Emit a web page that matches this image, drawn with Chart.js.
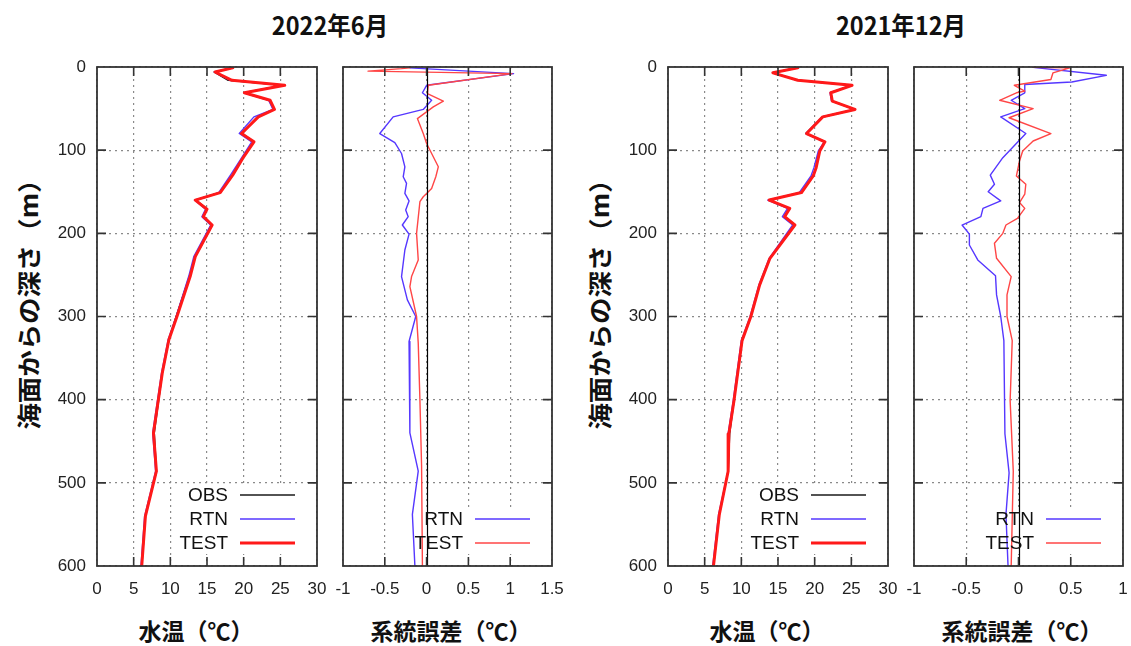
<!DOCTYPE html>
<html>
<head>
<meta charset="utf-8">
<script src="https://cdn.jsdelivr.net/npm/chart.js@4.4.0/dist/chart.umd.min.js"></script>
<style>
body { margin: 0; background: #fff; width: 1131px; height: 646px; position: relative; overflow: hidden;
       font-family: 'Noto Sans CJK JP', sans-serif; }
.panel { position: absolute; top: 55px; }
.lbl { position: absolute; white-space: nowrap; color: #111; font-weight: bold; font-size: 23px;
       transform: translate(-50%, -50%); }
.ttl { font-size: 25px; transform: translate(-50%, -50%) scaleX(0.94); }
.ylab { font-size: 24px; transform: translate(-50%, -50%) rotate(-90deg) scaleX(1.1); }
</style>
</head>
<body>

<div class="lbl ttl" style="left:330px;top:24px">2022年6月</div>
<div class="lbl ttl" style="left:901px;top:24px">2021年12月</div>
<div class="lbl ylab" style="left:27px;top:298px">海面からの深さ（m）</div>
<div class="lbl ylab" style="left:598px;top:298px">海面からの深さ（m）</div>
<div class="lbl" style="left:196px;top:630px">水温（℃）</div>
<div class="lbl" style="left:451px;top:630px">系統誤差（℃）</div>
<div class="lbl" style="left:767px;top:630px">水温（℃）</div>
<div class="lbl" style="left:1022px;top:630px">系統誤差（℃）</div>

<canvas id="p1" class="panel" style="left:40px" width="290" height="545"></canvas>
<canvas id="p2" class="panel" style="left:330px" width="235" height="545"></canvas>
<canvas id="p3" class="panel" style="left:611px" width="290" height="545"></canvas>
<canvas id="p4" class="panel" style="left:901px" width="230" height="545"></canvas>

<script>
// tick labels
const depthTicks = [0, 100, 200, 300, 400, 500, 600];
const tempTicks = [0, 5, 10, 15, 20, 25, 30];
const biasTicksJun = [-1, -0.5, 0, 0.5, 1, 1.5];
const biasTicksDec = [-1, -0.5, 0, 0.5, 1];

// 2022年6月 水温 (m, ℃)
const junDepth = [1, 6, 16, 22, 31, 40, 51, 60, 80, 90, 108, 130, 151, 160, 171, 180, 190, 228, 252, 300, 328, 368, 440, 486, 540, 600];
const junObs   = [18.6, 16.0, 17.9, 25.5, 20.1, 23.5, 24.1, 21.9, 19.8, 21.4, 20.0, 18.5, 16.8, 13.5, 15.0, 14.5, 15.7, 13.4, 12.6, 10.8, 9.8, 8.9, 7.8, 8.1, 6.6, 6.1];
const junRtn   = [18.3, 16.0, 18.2, 25.4, 20.0, 23.4, 24.0, 21.4, 19.4, 21.1, 19.8, 18.2, 16.6, 13.3, 14.8, 14.3, 15.5, 13.2, 12.5, 10.8, 9.7, 8.8, 7.6, 8.0, 6.5, 6.0];
const junTest  = [18.5, 16.1, 18.4, 25.6, 20.1, 23.6, 24.2, 22.0, 19.7, 21.4, 20.0, 18.5, 16.8, 13.4, 15.0, 14.5, 15.7, 13.4, 12.7, 10.9, 9.8, 8.9, 7.7, 8.1, 6.6, 6.1];

// 2022年6月 系統誤差
const junRtnBiasDepth = [1, 8, 22, 31, 40, 51, 60, 80, 91, 104, 120, 132, 140, 152, 161, 172, 180, 190, 201, 220, 252, 280, 300, 330, 440, 486, 538, 600];
const junRtnBias      = [-0.2, 1.04, 0.0, -0.05, 0.06, -0.04, -0.4, -0.56, -0.38, -0.3, -0.26, -0.28, -0.24, -0.26, -0.21, -0.25, -0.22, -0.29, -0.21, -0.26, -0.3, -0.23, -0.13, -0.21, -0.2, -0.1, -0.17, -0.14];
const junTestBiasDepth = [1, 2, 5, 8, 22, 32, 41, 48, 62, 80, 92, 120, 132, 146, 156, 162, 200, 232, 252, 264, 300, 332, 400, 480, 600];
const junTestBias      = [-0.2, -0.3, -0.7, 1.02, 0.02, 0.01, 0.2, 0.08, -0.11, -0.04, 0.0, 0.14, 0.11, 0.06, -0.04, -0.08, -0.12, -0.1, -0.18, -0.2, -0.12, -0.1, -0.08, -0.06, -0.05];

// 2021年12月 水温
const decDepth = [1, 7, 16, 22, 31, 41, 51, 60, 80, 90, 101, 121, 131, 151, 160, 170, 180, 190, 230, 262, 300, 329, 401, 441, 486, 538, 600];
const decObs   = [17.6, 14.3, 17.7, 25.1, 22.2, 22.4, 25.5, 21.1, 18.8, 21.4, 20.6, 20.2, 19.8, 18.2, 13.8, 16.5, 15.9, 17.3, 13.9, 12.5, 11.3, 10.1, 9.0, 8.4, 8.2, 7.0, 6.2];
const decRtn   = [17.8, 14.4, 17.6, 25.0, 22.1, 22.3, 25.4, 21.0, 18.8, 21.3, 20.5, 19.9, 19.5, 17.9, 13.6, 16.3, 15.6, 17.0, 13.8, 12.4, 11.2, 10.0, 8.9, 8.2, 8.2, 6.9, 6.1];
const decTest  = [17.7, 14.3, 17.7, 25.1, 22.2, 22.4, 25.5, 21.1, 18.9, 21.4, 20.7, 20.2, 19.8, 18.2, 13.8, 16.6, 15.9, 17.3, 13.9, 12.5, 11.3, 10.1, 9.0, 8.3, 8.2, 7.0, 6.2];

// 2021年12月 系統誤差
const decRtnBiasDepth = [0.5, 10, 18, 21, 31, 40, 50, 60, 80, 109, 130, 141, 150, 161, 170, 180, 190, 201, 214, 232, 251, 274, 300, 329, 441, 488, 538, 600];
const decRtnBias      = [0.14, 0.84, 0.51, 0.06, 0.06, -0.07, 0.06, -0.17, 0.07, -0.15, -0.27, -0.23, -0.29, -0.17, -0.34, -0.36, -0.54, -0.47, -0.47, -0.39, -0.22, -0.21, -0.17, -0.14, -0.13, -0.09, -0.12, -0.1];
const decTestBiasDepth = [0.5, 1, 7, 15, 22, 29, 31, 40, 50, 61, 80, 89, 101, 113, 131, 141, 153, 163, 170, 182, 190, 200, 212, 230, 252, 274, 300, 329, 401, 486, 600];
const decTestBias      = [0.14, 0.49, 0.33, 0.31, -0.04, 0.06, -0.02, -0.18, 0.14, -0.09, 0.31, 0.14, 0.04, 0.01, -0.02, 0.07, 0.06, 0.01, 0.06, -0.01, -0.12, -0.15, -0.23, -0.21, -0.07, -0.11, -0.11, -0.06, -0.08, -0.05, -0.07];

const BLACK = '#1a1a1a';
const BLUE = 'rgb(85,55,255)';
const RED = 'rgb(255,25,25)';
const RED_THIN = 'rgb(255,70,70)';

function pts(depth, vals) {
    return vals.map((v, i) => ({x: v, y: depth[i]}));
}

function line(label, depth, vals, color, width, order) {
    return {label: label, data: pts(depth, vals), borderColor: color, borderWidth: width,
            borderJoinStyle: 'round', borderCapStyle: 'round',
            showLine: true, pointRadius: 0, tension: 0, order: order};
}

function noPad(s) {
    s.paddingTop = 0; s.paddingBottom = 0; s.paddingLeft = 0; s.paddingRight = 0;
}

// frame, inner ticks, zero line and gnuplot-like key
const panelDeco = {
    id: 'panelDeco',
    beforeDatasetsDraw(chart) {
        const a = chart.chartArea;
        const n = chart.data.datasets.length;
        const ctx = chart.ctx;
        ctx.save();
        ctx.fillStyle = '#fff';
        ctx.fillRect(a.right - 129, a.bottom - 23 - (n - 1) * 24 - 11, 127, (n - 1) * 24 + 22);
        ctx.restore();
    },
    afterDatasetsDraw(chart) {
        const ctx = chart.ctx;
        const a = chart.chartArea;
        const x = chart.scales.x, y = chart.scales.y;
        ctx.save();
        if (x.min < 0) {
            const zx = Math.round(x.getPixelForValue(0)) + 0.5;
            ctx.strokeStyle = '#000';
            ctx.lineWidth = 1.2;
            ctx.beginPath();
            ctx.moveTo(zx, a.top);
            ctx.lineTo(zx, a.bottom);
            ctx.stroke();
        }
        ctx.strokeStyle = '#333';
        ctx.lineWidth = 1.6;
        ctx.beginPath();
        x.ticks.forEach(t => {
            if (t.value <= x.min || t.value >= x.max) return;
            const px = x.getPixelForValue(t.value);
            ctx.moveTo(px, a.top); ctx.lineTo(px, a.top + 9);
            ctx.moveTo(px, a.bottom); ctx.lineTo(px, a.bottom - 9);
        });
        y.ticks.forEach(t => {
            if (t.value <= y.min || t.value >= y.max) return;
            const py = y.getPixelForValue(t.value);
            ctx.moveTo(a.left, py); ctx.lineTo(a.left + 9, py);
            ctx.moveTo(a.right, py); ctx.lineTo(a.right - 9, py);
        });
        ctx.stroke();
        ctx.lineWidth = 1.8;
        ctx.strokeRect(a.left, a.top, a.right - a.left, a.bottom - a.top);

        const n = chart.data.datasets.length;
        ctx.font = '19px "Liberation Sans"';
        ctx.textAlign = 'right';
        ctx.textBaseline = 'middle';
        chart.data.datasets.forEach((ds, i) => {
            const ly = a.bottom - 23 - (n - 1 - i) * 24;
            ctx.fillStyle = '#111';
            ctx.fillText(ds.label, a.right - 89, ly + 1);
            ctx.strokeStyle = ds.borderColor;
            ctx.lineWidth = ds.borderWidth;
            ctx.beginPath();
            ctx.moveTo(a.right - 77, ly);
            ctx.lineTo(a.right - 22, ly);
            ctx.stroke();
        });
        ctx.restore();
    }
};

function makePanel(id, xMin, xMax, xTicks, yWidth, rightPad, datasets) {
    const tickFont = {family: 'Liberation Sans', size: 17};
    new Chart(document.getElementById(id), {
        type: 'scatter',
        data: {datasets: datasets},
        options: {
            responsive: false,
            animation: false,
            devicePixelRatio: 1,
            layout: {autoPadding: false, padding: {top: 12, right: rightPad, left: 0, bottom: 0}},
            plugins: {legend: {display: false}, tooltip: {enabled: false}},
            scales: {
                x: {
                    type: 'linear', position: 'bottom', min: xMin, max: xMax,
                    afterBuildTicks: s => { s.ticks = xTicks.map(v => ({value: v})); },
                    afterFit: s => { s.height = 34; noPad(s); },
                    grid: {color: '#8a8a8a', lineWidth: 1.2, drawTicks: false},
                    border: {display: false, dash: [2, 4]},
                    ticks: {padding: 13, color: '#222', font: tickFont, maxRotation: 0,
                            callback: v => String(v)}
                },
                y: {
                    type: 'linear', reverse: true, min: 0, max: 600,
                    afterBuildTicks: s => { s.ticks = depthTicks.map(v => ({value: v})); },
                    afterFit: s => { s.width = yWidth; noPad(s); },
                    grid: {color: '#8a8a8a', lineWidth: 1.2, drawTicks: false},
                    border: {display: false, dash: [2, 4]},
                    ticks: {display: yWidth > 20, padding: 11, color: '#222', font: tickFont,
                            callback: v => String(v)}
                }
            }
        },
        plugins: [panelDeco]
    });
}

makePanel('p1', 0, 30, tempTicks, 57, 13, [
    line('OBS', junDepth, junObs, BLACK, 1.6, 2),
    line('RTN', junDepth, junRtn, BLUE, 1.4, 1),
    line('TEST', junDepth, junTest, RED, 3, 0)
]);
makePanel('p2', -1, 1.5, biasTicksJun, 13, 13, [
    line('RTN', junRtnBiasDepth, junRtnBias, BLUE, 1.4, 1),
    line('TEST', junTestBiasDepth, junTestBias, RED_THIN, 1.4, 0)
]);
makePanel('p3', 0, 30, tempTicks, 57, 13, [
    line('OBS', decDepth, decObs, BLACK, 1.6, 2),
    line('RTN', decDepth, decRtn, BLUE, 1.4, 1),
    line('TEST', decDepth, decTest, RED, 3, 0)
]);
makePanel('p4', -1, 1, biasTicksDec, 13, 8, [
    line('RTN', decRtnBiasDepth, decRtnBias, BLUE, 1.4, 1),
    line('TEST', decTestBiasDepth, decTestBias, RED_THIN, 1.4, 0)
]);
</script>
</body>
</html>
